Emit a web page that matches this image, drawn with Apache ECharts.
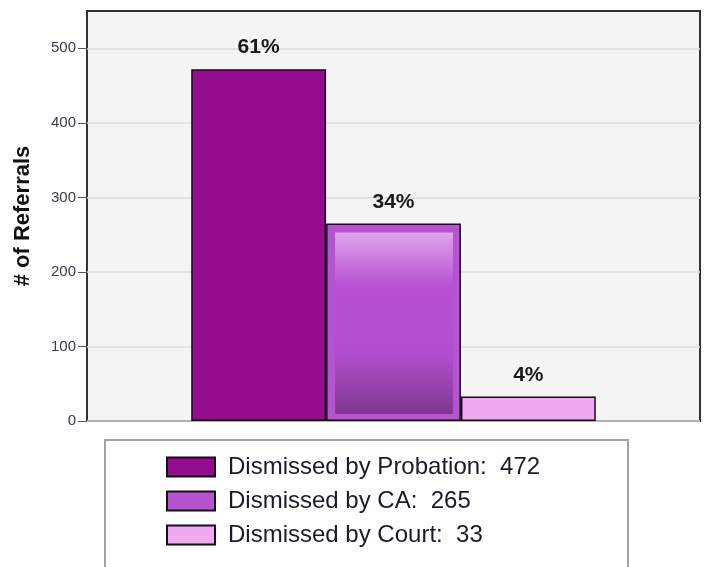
<!DOCTYPE html>
<html>
<head>
<meta charset="utf-8">
<script src="https://cdn.jsdelivr.net/npm/echarts@6/dist/echarts.min.js"></script>
<style>
html,body{margin:0;padding:0;background:#fff;}
#chart{width:707px;height:567px;}
</style>
</head>
<body>
<div id="chart"></div>
<script>
const categories = ['Referrals'];
const seriesNames = ['Dismissed by Probation', 'Dismissed by CA', 'Dismissed by Court'];
const seriesValues = [472, 265, 33];
const percentLabels = ['61%', '34%', '4%'];
const yTicks = [0, 100, 200, 300, 400, 500];

const colors = ['#950d8f', '#b752d2', '#f0a8f0'];
const BAR_FRAC = 0.22;
const FONT = 'Liberation Sans, Arial, sans-serif';

const chart = echarts.init(document.getElementById('chart'), null, {renderer: 'canvas'});

const barSeries = seriesNames.map((name, i) => ({
  name: name,
  type: 'bar',
  barWidth: (BAR_FRAC * 100) + '%',
  barGap: '0%',
  data: [seriesValues[i]],
  itemStyle: {color: colors[i], borderColor: '#111', borderWidth: 1.5},
  label: {
    show: true,
    position: 'top',
    distance: 11,
    formatter: () => percentLabels[i],
    fontFamily: FONT,
    fontWeight: 'bold',
    fontSize: 21,
    color: '#1a1a1a'
  },
  emphasis: {disabled: true},
  animation: false
}));

const gradientSeries = {
  name: 'caGradient',
  type: 'custom',
  z: 5,
  silent: true,
  animation: false,
  data: [[0, seriesValues[1]]],
  renderItem: function (params, api) {
    const base = api.coord([api.value(0), 0]);
    const top = api.coord([api.value(0), api.value(1)]);
    const band = api.size([1, 0])[0];
    const w = band * BAR_FRAC;
    const cx = base[0];
    return {
      type: 'rect',
      shape: {x: cx - w / 2 + 9, y: top[1] + 9, width: w - 17, height: base[1] - top[1] - 16},
      style: {
        fill: new echarts.graphic.LinearGradient(0, 0, 0, 1, [
          {offset: 0, color: '#dea6ea'},
          {offset: 0.29, color: '#b752d2'},
          {offset: 0.68, color: '#b04fcb'},
          {offset: 1, color: '#7e3790'}
        ])
      }
    };
  }
};

const option = {
  backgroundColor: '#ffffff',
  animation: false,
  grid: {
    left: 87, right: 7, top: 11, bottom: 146,
    show: true,
    backgroundColor: '#f4f4f4',
    borderColor: '#333',
    borderWidth: 2,
    containLabel: false
  },
  graphic: [{
    type: 'rect',
    z: -1,
    shape: {x: 105, y: 440, width: 523, height: 150},
    style: {fill: '#ffffff', stroke: '#a3a3a3', lineWidth: 2}
  }],
  legend: {
    data: seriesNames,
    orient: 'vertical',
    left: 161,
    top: 450,
    itemWidth: 48,
    itemHeight: 19,
    itemGap: 10,
    icon: 'rect',
    selectedMode: false,
    formatter: function (name) {
      const i = seriesNames.indexOf(name);
      return name + ':  ' + seriesValues[i];
    },
    textStyle: {
      fontFamily: FONT,
      fontSize: 24,
      color: '#1a1a2a',
      padding: [0, 0, 0, 8]
    }
  },
  xAxis: {
    type: 'category',
    data: categories,
    axisLine: {show: false},
    axisTick: {show: false},
    axisLabel: {show: false},
    splitLine: {show: false}
  },
  yAxis: {
    type: 'value',
    min: 0,
    max: 550,
    interval: 100,
    name: '# of Referrals',
    nameLocation: 'middle',
    nameGap: 53,
    nameRotate: 90,
    nameTextStyle: {
      fontFamily: FONT,
      fontWeight: 'bold',
      fontSize: 22,
      color: '#111'
    },
    axisLine: {show: false},
    axisTick: {show: true, length: 9, customValues: yTicks, lineStyle: {color: '#555'}},
    axisLabel: {
      margin: 11,
      customValues: yTicks,
      fontFamily: FONT,
      fontSize: 15,
      color: '#3a3a4a'
    },
    splitLine: {show: true, lineStyle: {color: '#dcdcdc', width: 1.5}}
  },
  series: barSeries.concat([gradientSeries])
};

chart.setOption(option);
</script>
</body>
</html>
